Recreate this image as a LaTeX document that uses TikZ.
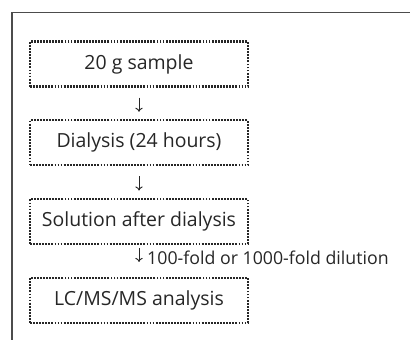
\documentclass[tikz,border=0pt]{standalone}
\usepackage{fontspec}
\setmainfont{Open Sans}
\usetikzlibrary{positioning,arrows.meta}

\tikzset{
	stepbox/.style={draw=black!85, line width=1.7pt, dash pattern=on 1.35pt off 0.95pt,
		minimum width=163.5pt, minimum height=33.75pt, inner sep=0pt,
		font=\fontsize{14.6}{17}\selectfont, text=black!85},
	flowarrow/.style={draw=black!85, line width=0.7pt, -{To[length=3pt,width=5.5pt]}},
}

\begin{document}
\begin{tikzpicture}[x=0.75pt, y=0.75pt]
	\useasboundingbox (0,0) rectangle (410,340);
	%frame
	\draw[black!70, line width=0.8pt] (410,327.3) -- (12,327.3) -- (12,0);
	%boxes
	\node[stepbox] (sample) at (139,276) {20 g sample};
	\node[stepbox, below=23.6pt of sample] (dialysis) {Dialysis (24 hours)};
	\node[stepbox, below=23.6pt of dialysis] (solution) {Solution after dialysis};
	\node[stepbox, below=23.6pt of solution] (analysis) {LC/MS/MS analysis};
	%arrows
	\draw[flowarrow, shorten <=7.5pt, shorten >=5.5pt] (sample) -- (dialysis);
	\draw[flowarrow, shorten <=7.5pt, shorten >=5.5pt] (dialysis) -- (solution);
	\draw[flowarrow, shorten <=2pt, shorten >=11pt] (solution) -- (analysis)
		node[pos=0.4, right=2.5pt, font=\fontsize{13.3}{15}\selectfont, text=black!85] (dilution) {100-fold or 1000-fold dilution};
\end{tikzpicture}
\end{document}
